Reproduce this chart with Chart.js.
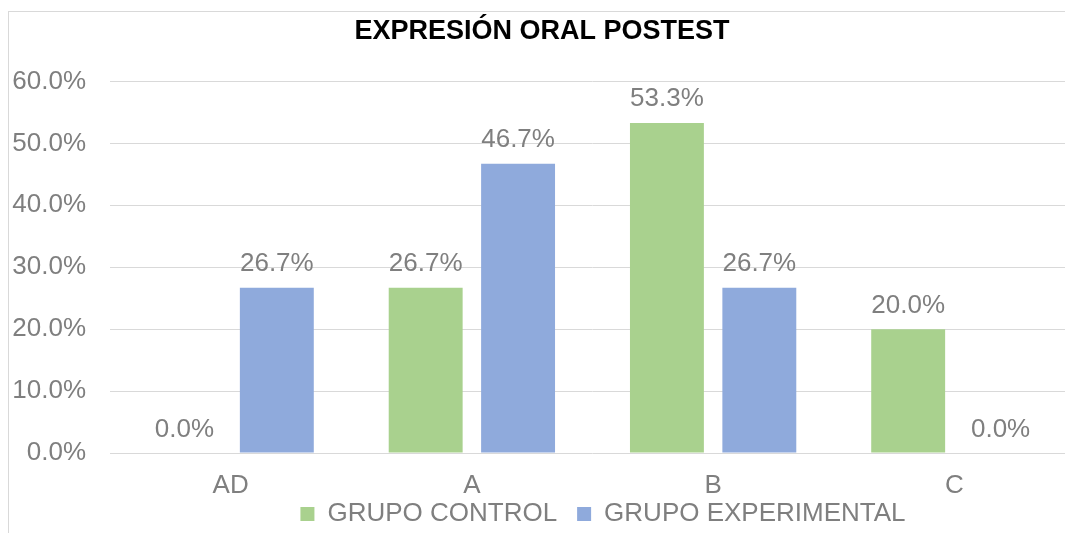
<!DOCTYPE html>
<html>
<head>
<meta charset="utf-8">
<script src="https://cdn.jsdelivr.net/npm/chart.js@4"></script>
<style>
html, body { margin: 0; padding: 0; overflow: hidden; background: #fff; }
#clip { position: absolute; left: 0; top: 0; width: 1065px; height: 533px; overflow: hidden; }
#box { position: absolute; left: 8px; top: 11px; border-left: 1px solid #d9d9d9; border-top: 1px solid #d9d9d9; width: 1100px; height: 560px; }
#c { position: absolute; left: 0; top: 0; }
</style>
</head>
<body>
<div id="clip"><div id="box"><canvas id="c" width="1066" height="547"></canvas></div></div>
<script>
const categories = ['AD', 'A', 'B', 'C'];
const controlValues = [0.0, 26.7, 53.3, 20.0];
const experimentalValues = [26.7, 46.7, 26.7, 0.0];
const seriesNames = ['GRUPO CONTROL', 'GRUPO EXPERIMENTAL'];
const yTicks = [0, 10, 20, 30, 40, 50, 60];

const FONT = '"Liberation Sans", Arial, sans-serif';
const GRAY = '#7f7f7f';

const dataLabels = {
  id: 'dataLabels',
  afterDatasetsDraw(chart) {
    const ctx = chart.ctx;
    ctx.save();
    ctx.font = '26px ' + FONT;
    ctx.fillStyle = GRAY;
    ctx.textAlign = 'center';
    ctx.textBaseline = 'alphabetic';
    chart.data.datasets.forEach((ds, i) => {
      chart.getDatasetMeta(i).data.forEach((el, j) => {
        ctx.fillText(ds.data[j].toFixed(1) + '%', el.x, el.y - 16.5);
      });
    });
    ctx.restore();
  }
};

const legendShift = {
  id: 'legendShift',
  afterLayout(chart) {
    const lg = chart.legend;
    if (lg) {
      lg.left += 61; lg.right += 61;
      lg.top -= 22; lg.bottom -= 22;
    }
  }
};

new Chart(document.getElementById('c'), {
  type: 'bar',
  data: {
    labels: categories,
    datasets: [
      { label: seriesNames[0], data: controlValues, backgroundColor: '#a9d18e', borderWidth: 0 },
      { label: seriesNames[1], data: experimentalValues, backgroundColor: '#8faadc', borderWidth: 0 }
    ]
  },
  options: {
    responsive: false,
    animation: false,
    devicePixelRatio: 1,
    categoryPercentage: 0.766,
    barPercentage: 0.80,
    layout: { padding: 0 },
    plugins: {
      title: {
        display: true,
        text: 'EXPRESIÓN ORAL POSTEST',
        color: '#000',
        font: { family: FONT, size: 27, weight: 'bold' },
        padding: { top: 3, bottom: 34 }
      },
      legend: {
        position: 'bottom',
        labels: {
          boxWidth: 14, boxHeight: 14, padding: 20,
          color: GRAY,
          font: { family: FONT, size: 26 }
        }
      },
      tooltip: { enabled: false }
    },
    scales: {
      x: {
        afterFit(s) { s.height = 50; },
        grid: { display: false, drawTicks: false },
        border: { display: false },
        ticks: { color: GRAY, font: { family: FONT, size: 26 }, padding: 17.4 }
      },
      y: {
        min: 0, max: 60,
        afterFit(s) { s.width = 101; },
        afterBuildTicks(s) { s.ticks = yTicks.map(v => ({ value: v })); },
        grid: { color: '#d9d9d9', lineWidth: 1, drawTicks: false },
        border: { display: false },
        ticks: {
          color: GRAY, font: { family: FONT, size: 26 }, padding: 24,
          callback: v => v.toFixed(1) + '%'
        }
      }
    }
  },
  plugins: [dataLabels, legendShift]
});
</script>
</body>
</html>
